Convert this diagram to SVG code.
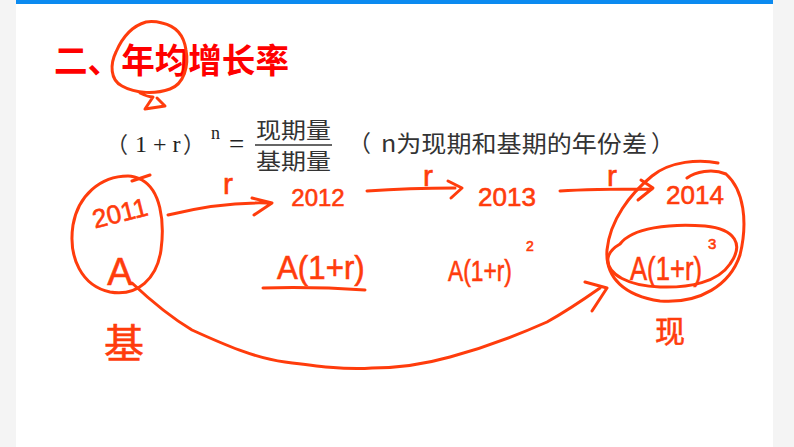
<svg xmlns="http://www.w3.org/2000/svg" width="794" height="447" viewBox="0 0 794 447">
  <style>
    .ink { fill: none; stroke: #ff3c0c; stroke-width: 3; stroke-linecap: round; stroke-linejoin: round; }
    .hand { fill: #ff3c0c; stroke: #ff3c0c; stroke-width: 0.6; font-family: "Liberation Sans", "Noto Sans CJK SC", sans-serif; }
    .cjk { font-family: "Noto Sans CJK SC", sans-serif; }
    .serif { font-family: "Liberation Serif", "Noto Sans CJK SC", serif; fill: #222; }
    .note { font-family: "Noto Sans CJK SC", "Liberation Sans", sans-serif; fill: #333; }
  </style>

  <!-- page backdrop and slide -->
  <rect x="0" y="0" width="794" height="447" fill="#f4f4f4"/>
  <rect x="16" y="0" width="757" height="447" fill="#ffffff"/>
  <rect x="16" y="0" width="757" height="4" fill="#0b8af0"/>

  <!-- heading -->
  <g id="title">
    <text x="54" y="73" font-size="34" font-weight="bold" fill="#ff0000" class="cjk" textLength="235" lengthAdjust="spacingAndGlyphs">二、年均增长率</text>
    <path class="ink" d="M162,23 C176,26 184,36 186,50 C189,66 184,84 170,89 C156,94 136,94 122,86 C110,80 110,64 116,52 C122,38 132,26 146,22 C152,21 158,22 162,23 M140,93 C146,96 151,97 153,97 L145,109 L165,106 L157,98"/>
  </g>

  <!-- growth formula -->
  <g id="formula">
    <text x="106" y="152" font-size="22" class="note" fill="#222">（</text>
    <text x="135" y="152" font-size="24" class="serif">1 + r</text>
    <text x="183" y="152" font-size="22" class="note" fill="#222">）</text>
    <text x="211" y="139" font-size="18" class="serif">n</text>
    <text x="229" y="153" font-size="27" class="serif">=</text>
    <text x="256" y="138" font-size="22" class="note" textLength="75" lengthAdjust="spacingAndGlyphs">现期量</text>
    <line x1="255" y1="145" x2="332" y2="145" stroke="#333" stroke-width="1.3"/>
    <text x="256" y="169" font-size="22" class="note" textLength="75" lengthAdjust="spacingAndGlyphs">基期量</text>
    <text x="348" y="152" font-size="23" class="note">（</text>
    <text x="381" y="152" font-size="23" class="note" textLength="266" lengthAdjust="spacingAndGlyphs">n为现期和基期的年份差</text>
    <text x="651" y="152" font-size="23" class="note">）</text>
  </g>

  <!-- base year -->
  <g id="node-2011">
    <path class="ink" d="M150,175 L132,181 M128,176 C100,176 78,196 73,225 C68,258 82,286 110,292 C138,297 157,278 161,250 C165,220 160,190 142,180 C136,177 131,176 128,176"/>
    <text class="hand" x="120" y="222" font-size="26" text-anchor="middle" transform="rotate(-14 120 213)">2011</text>
    <text class="hand" x="120" y="285" font-size="38" text-anchor="middle">A</text>
    <text class="hand cjk" x="124" y="358" font-size="40" text-anchor="middle">基</text>
  </g>

  <g id="node-2012">
    <text class="hand" x="318" y="206" font-size="24" text-anchor="middle">2012</text>
    <text class="hand" x="0" y="0" font-size="34" transform="translate(277 279) scale(0.92 1)">A(1+r)</text>
    <path class="ink" d="M263,288 C300,287 335,288 365,290"/>
  </g>

  <g id="node-2013">
    <text class="hand" x="448" y="206" font-size="26" dx="30">2013</text>
    <text class="hand" x="0" y="0" font-size="30" transform="translate(448 281) scale(0.76 1)">A(1+r)</text>
    <text class="hand" x="526" y="251" font-size="14">2</text>
  </g>

  <g id="node-2014">
    <text class="hand" x="695" y="204" font-size="26" text-anchor="middle">2014</text>
    <text class="hand" x="0" y="0" font-size="34" transform="translate(630 280) scale(0.755 1)">A(1+r)</text>
    <text class="hand" x="708" y="249" font-size="15">3</text>
    <path class="ink" d="M718,163 C700,159 670,161 652,176 C630,194 610,220 607,250 C605,278 625,296 660,301 C700,304 730,285 740,255 C748,222 744,190 726,174 C712,168 695,172 687,178"/>
    <path class="ink" d="M620,244 C632,228 670,223 705,226 C736,229 744,245 730,264 C718,282 690,288 660,287 C630,286 606,275 608,258 C609,252 613,248 620,244"/>
    <text class="hand cjk" x="670" y="342" font-size="30" text-anchor="middle">现</text>
  </g>

  <!-- growth arrows -->
  <g id="connectors">
    <path class="ink" d="M168,215 C200,207 235,202 268,203 M252,198 L272,203 L254,215"/>
    <text class="hand" x="228" y="194" font-size="30" text-anchor="middle">r</text>
    <path class="ink" d="M367,191 C395,189 425,188 455,188 M448,181 L462,188 L451,198"/>
    <text class="hand" x="428" y="186" font-size="30" text-anchor="middle">r</text>
    <path class="ink" d="M560,191 C590,189 620,189 652,189 M641,180 L653,188 L638,200"/>
    <text class="hand" x="612" y="186" font-size="30" text-anchor="middle">r</text>
    <path class="ink" d="M132,283 C150,300 172,318 192,330 C225,345 255,358 285,362 C315,366 345,370 372,368 C400,368 425,364 450,357 C490,346 520,334 547,322 C565,312 580,302 600,288 M585,282 L607,288 L592,311"/>
  </g>
</svg>
